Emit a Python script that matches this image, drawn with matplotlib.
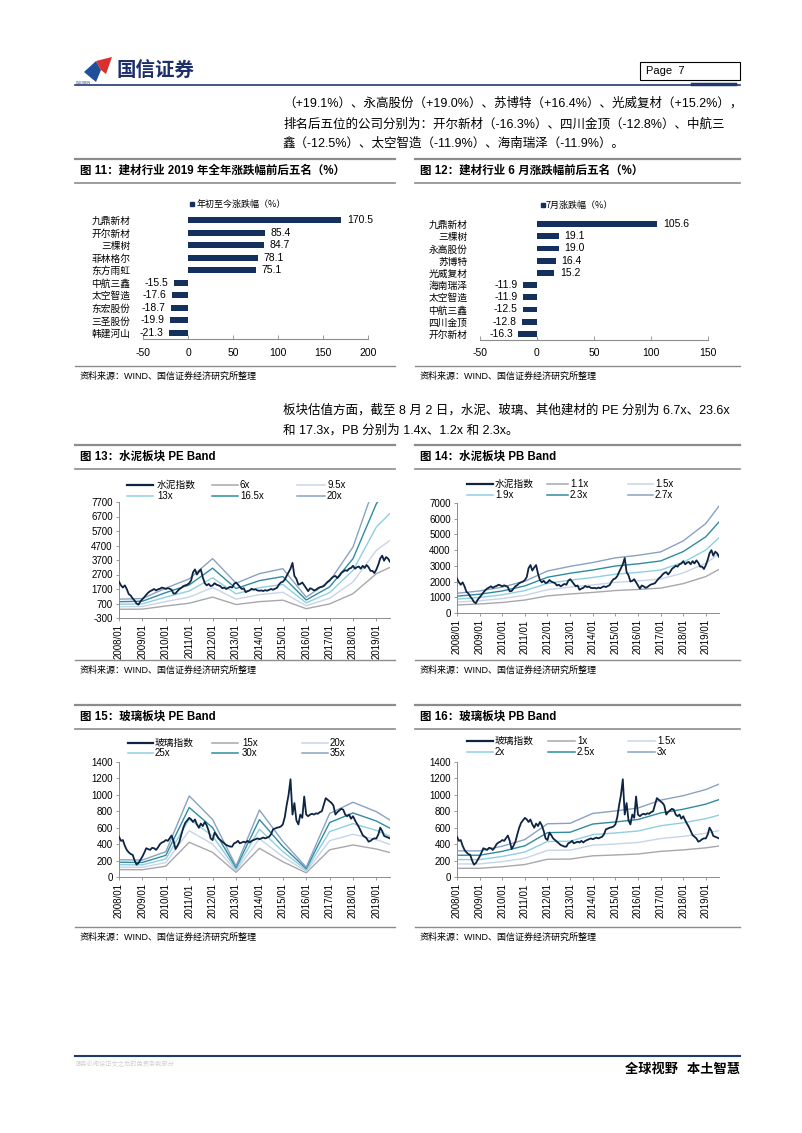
"""Rebuild of page 7: building-materials rankings and PE/PB band charts."""

import matplotlib
matplotlib.use('Agg')
import matplotlib.pyplot as plt
from matplotlib.lines import Line2D
from matplotlib.patches import Rectangle, Polygon
import numpy as np

plt.rcParams['font.family'] = ['Liberation Sans', 'Noto Sans CJK SC', 'DejaVu Sans']
plt.rcParams['axes.unicode_minus'] = False

# --- data -------------------------------------------------------------------
# fig 11: full-year 2019 change, top/bottom five (%)
names11 = ['九鼎新材', '开尔新材', '三棵树', '菲林格尔', '东方雨虹',
           '中航三鑫', '太空智造', '东宏股份', '三圣股份', '韩建河山']
vals11 = [170.5, 85.4, 84.7, 78.1, 75.1, -15.5, -17.6, -18.7, -19.9, -21.3]

# fig 12: monthly change, top/bottom five (%)
names12 = ['九鼎新材', '三棵树', '永高股份', '苏博特', '光威复材',
           '海南瑞泽', '太空智造', '中航三鑫', '四川金顶', '开尔新材']
vals12 = [105.6, 19.1, 19.0, 16.4, 15.2, -11.9, -11.9, -12.5, -12.8, -16.3]

# monthly index levels, 2008/01 .. 2019/08
cement_idx = [
    2200, 1950, 1800, 1950, 1700, 1350, 1250, 1050, 900, 700, 620, 850,
    1000, 1150, 1300, 1450, 1550, 1620, 1700, 1600, 1680, 1720, 1800, 1760,
    1700, 1760, 1720, 1650, 1380, 1400, 1550, 1700, 1780, 1900, 1950, 2000,
    2100, 2300, 2850, 3050, 2700, 2900, 3050, 2500, 2100, 1950, 2050, 1900,
    1950, 2100, 2000, 1950, 1900, 1750, 1800, 1700, 1780, 1850, 1800, 2050,
    2150, 2000, 1850, 1700, 1750, 1480, 1550, 1600, 1720, 1650, 1680, 1600,
    1580, 1600, 1560, 1620, 1580, 1640, 1700, 1650, 1720, 1780, 2000, 2150,
    2200, 2350, 2600, 2850, 3100, 3500, 2600, 2400, 2000, 2050, 2150, 1950,
    1750, 1550, 1750, 1700, 1600, 1650, 1750, 1820, 1850, 1900, 2050, 2200,
    2300, 2450, 2550, 2600, 2450, 2600, 2800, 2900, 3000, 2950, 3100, 3150,
    3300, 3100, 3200, 3250, 3100, 3300, 3150, 3350, 3200, 2950, 2950, 2800,
    3050, 3400, 3800, 4000, 3650, 3900, 3800, 3580]

glass_idx = [
    490, 440, 450, 380, 330, 300, 280, 270, 200, 150, 170, 210,
    250, 300, 350, 340, 330, 355, 350, 330, 360, 400, 420, 430,
    450, 440, 470, 505, 440, 340, 380, 430, 520, 600, 660, 690,
    720, 700, 670, 700, 640, 600, 650, 620, 670, 630, 560, 470,
    450, 540, 510, 470, 450, 430, 410, 390, 380, 370, 370, 410,
    420, 440, 410, 420, 430, 420, 440, 420, 440, 450, 460, 470,
    460, 470, 480, 470, 480, 490, 520, 580, 590, 600, 605, 615,
    640, 730, 870, 1000, 1190, 760, 900, 690, 640, 760, 720, 980,
    760, 740, 760, 770, 760, 775, 770, 790, 800, 880, 960, 940,
    920, 900, 870, 760, 790, 810, 830, 820, 760, 740, 760, 710,
    740, 690, 650, 610, 560, 510, 490, 470, 430, 440, 460, 470,
    470, 520, 600, 560, 500, 490, 480, 470]

# per-share earnings / book value at each band vertex (Jan of 2008..2019, then 2019/08)
cement_eps = [50, 52, 88, 120, 190, 105, 138, 155, 57, 112, 230, 460, 532]
cement_bps = [465, 520, 610, 750, 990, 1100, 1190, 1300, 1360, 1440, 1700, 2110, 2520]
glass_eps = [6.0, 5.9, 8.8, 28.2, 20.0, 3.8, 23.3, 12.4, 3.4, 22.1, 26.0, 22.7, 19.8]
glass_bps = [106, 106, 125, 152, 216, 218, 258, 268, 280, 312, 330, 355, 377]

cement_pe_mult = [6, 9.5, 13, 16.5, 20]
cement_pb_mult = [1.1, 1.5, 1.9, 2.3, 2.7]
glass_pe_mult = [15, 20, 25, 30, 35]
glass_pb_mult = [1, 1.5, 2, 2.5, 3]

cement_pe_labels = ['水泥指数', '6x', '9.5x', '13x', '16.5x', '20x']
cement_pb_labels = ['水泥指数', '1.1x', '1.5x', '1.9x', '2.3x', '2.7x']
glass_pe_labels = ['玻璃指数', '15x', '20x', '25x', '30x', '35x']
glass_pb_labels = ['玻璃指数', '1x', '1.5x', '2x', '2.5x', '3x']

months = np.arange('2008-01', '2019-09', dtype='datetime64[M]').astype('datetime64[D]')
vertices = [np.datetime64(f'{y}-01-01') for y in range(2008, 2020)] + [np.datetime64('2019-08-01')]
year_ticks = [np.datetime64(f'{y}-01-01') for y in range(2008, 2020)]

# --- style ------------------------------------------------------------------
NAVY = '#0d2444'
BAR = '#14305c'
GRAY_LINE = '#8c8c8c'
BAND_COLORS = ['#a8a8ac', '#c8d4e8', '#8ecfe0', '#2f8ca0', '#8aa2c2']
CJK = ['Noto Sans CJK SC', 'DejaVu Sans']

W, H = 802, 1133
fig = plt.figure(figsize=(W / 100, H / 100), dpi=100)
fig.patch.set_facecolor('white')


def px_ax(l, t, r, b):
    return fig.add_axes([l / W, 1 - b / H, (r - l) / W, (b - t) / H])


def ftext(x, y, s, **kw):
    kw.setdefault('va', 'center')
    fig.text(x / W, 1 - y / H, s, **kw)


def fline(x0, x1, y0, y1, **kw):
    fig.add_artist(Line2D([x0 / W, x1 / W], [1 - y0 / H, 1 - y1 / H],
                          transform=fig.transFigure, **kw))


# --- header / footer --------------------------------------------------------
fig.add_artist(Polygon([(84 / W, 1 - 72 / H), (96 / W, 1 - 61 / H), (101 / W, 1 - 70 / H), (96 / W, 1 - 82 / H)],
                       closed=True, transform=fig.transFigure, color='#1f4e9a', lw=0))
fig.add_artist(Polygon([(96 / W, 1 - 61 / H), (112 / W, 1 - 57 / H), (106 / W, 1 - 74 / H), (101 / W, 1 - 70 / H)],
                       closed=True, transform=fig.transFigure, color='#d9302c', lw=0))
ftext(117, 71, '国信证券', fontsize=14, fontweight='bold', color='#1c2f6b', family=CJK)
ftext(76, 83, 'GUOSEN', fontsize=2.5, color='#1c2f6b')
fig.add_artist(Rectangle((640 / W, 1 - 80 / H), 100 / W, 18 / H, transform=fig.transFigure,
                         fill=False, lw=0.8, ec='black'))
ftext(646, 71, 'Page  7', fontsize=8)
fline(75, 740, 85, 85, color='#1f3a6e', lw=1.2)
fline(692, 735, 83.5, 83.5, color='#1f3a6e', lw=2.5)

fline(75, 740, 1056, 1056, color='#1f3a6e', lw=1.5)
ftext(75, 1064, '请务必阅读正文之后的免责条款部分', fontsize=4.5, color='#d0d0d0', family=CJK)
ftext(740, 1069, '全球视野   本土智慧', fontsize=9.5, fontweight='bold', ha='right', family=CJK)

# --- body text --------------------------------------------------------------
body = dict(fontsize=9.0)
ftext(283, 103, '（+19.1%）、永高股份（+19.0%）、苏博特（+16.4%）、光威复材（+15.2%），', **body)
ftext(283, 124, '排名后五位的公司分别为：开尔新材（-16.3%）、四川金顶（-12.8%）、中航三', **body)
ftext(283, 144, '鑫（-12.5%）、太空智造（-11.9%）、海南瑞泽（-11.9%）。', **body)
ftext(283, 410, '板块估值方面，截至 8 月 2 日，水泥、玻璃、其他建材的 PE 分别为 6.7x、23.6x', **body)
ftext(283, 430, '和 17.3x，PB 分别为 1.4x、1.2x 和 2.3x。', **body)


# --- panel frames -----------------------------------------------------------
def frame(x0, x1, top, title, src_y):
    fline(x0, x1, top, top, color=GRAY_LINE, lw=1.6)
    fline(x0, x1, top + 24, top + 24, color=GRAY_LINE, lw=1.2)
    ftext(x0 + 5, top + 12, title, fontsize=8.3, fontweight='bold')
    fline(x0, x1, src_y, src_y, color=GRAY_LINE, lw=1.0)
    ftext(x0 + 5, src_y + 10, '资料来源：WIND、国信证券经济研究所整理', fontsize=6.5)


frame(75, 395, 159, '图 11：建材行业 2019 年全年涨跌幅前后五名（%）', 366)
frame(415, 740, 159, '图 12：建材行业 6 月涨跌幅前后五名（%）', 366)
frame(75, 395, 445, '图 13：水泥板块 PE Band', 660)
frame(415, 740, 445, '图 14：水泥板块 PB Band', 660)
frame(75, 395, 705, '图 15：玻璃板块 PE Band', 927)
frame(415, 740, 705, '图 16：玻璃板块 PB Band', 927)


# --- bar charts -------------------------------------------------------------
def bar_chart(ax, names, vals, xlim, xticks):
    y = np.arange(len(names))
    ax.barh(y, vals, height=0.48, color=BAR)
    ax.set_ylim(len(names) - 0.5, -0.5)
    ax.set_xlim(*xlim)
    ax.set_yticks(y)
    ax.set_yticklabels(names, fontsize=7, family=CJK)
    ax.tick_params(axis='y', length=0, pad=9)
    ax.set_xticks(xticks)
    ax.tick_params(axis='x', direction='in', length=3, width=0.6, color=GRAY_LINE,
                   labelsize=7.5, pad=6)
    for s in ['top', 'right', 'left']:
        ax.spines[s].set_visible(False)
    ax.spines['bottom'].set_color(GRAY_LINE)
    ax.spines['bottom'].set_linewidth(0.8)
    for yi, v in zip(y, vals):
        ax.annotate(f'{v:.1f}', (v, yi), xytext=(4 if v > 0 else -4, 0),
                    textcoords='offset points', ha='left' if v > 0 else 'right',
                    va='center', fontsize=7.5)


ax11 = px_ax(143, 213.7, 368, 339.3)
bar_chart(ax11, names11, vals11, (-50, 200), [-50, 0, 50, 100, 150, 200])
fig.add_artist(Rectangle((190 / W, 1 - 206 / H), 4 / W, 4 / H, transform=fig.transFigure, color=BAR))
ftext(197, 204, '年初至今涨跌幅（%）', fontsize=6.5, family=CJK)

ax12 = px_ax(480, 218, 708, 340)
bar_chart(ax12, names12, vals12, (-50, 150), [-50, 0, 50, 100, 150])
fig.add_artist(Rectangle((541 / W, 1 - 207 / H), 4 / W, 4 / H, transform=fig.transFigure, color=BAR))
ftext(546, 205, '7月涨跌幅（%）', fontsize=6.5, family=CJK)


# --- band charts ------------------------------------------------------------
def band_chart(ax, idx, base, mults, ylim, yticks):
    for m, c in zip(mults, BAND_COLORS):
        ax.plot(vertices, [b * m for b in base], color=c, lw=1.0, zorder=2)
    ax.plot(months, idx, color=NAVY, lw=1.3, zorder=5)
    ax.set_xlim(np.datetime64('2008-01-01'), np.datetime64('2019-08-01'))
    ax.set_ylim(*ylim)
    ax.set_yticks(yticks)
    ax.set_xticks(year_ticks)
    ax.set_xticklabels([f'{str(d)[:4]}/01' for d in year_ticks], rotation=90)
    ax.tick_params(axis='both', length=2.5, width=0.6, color=GRAY_LINE, labelsize=7, pad=2)
    for s in ['top', 'right']:
        ax.spines[s].set_visible(False)
    for s in ['left', 'bottom']:
        ax.spines[s].set_color(GRAY_LINE)
        ax.spines[s].set_linewidth(0.7)


def band_legend(labels, xs0, xs1, xt, rows):
    colors = [NAVY] + BAND_COLORS
    for i, (lab, c) in enumerate(zip(labels, colors)):
        r, col = divmod(i, 3)
        y = rows[r]
        fline(xs0[col], xs1[col], y, y, color=c, lw=1.6 if i == 0 else 1.1)
        ftext(xt[col], y, lab, fontsize=7, family=['Liberation Sans', 'Noto Sans CJK SC'])


ax13 = px_ax(119, 502, 390, 618)
band_chart(ax13, cement_idx, cement_eps, cement_pe_mult, (-300, 7700), range(-300, 7701, 1000))
band_legend(cement_pe_labels, [127, 212, 297], [153, 238, 325], [157, 240, 327], [485, 496])

ax14 = px_ax(457, 503, 719, 613)
band_chart(ax14, cement_idx, cement_bps, cement_pb_mult, (0, 7000), range(0, 7001, 1000))
band_legend(cement_pb_labels, [467, 547, 628], [493, 568, 653], [495, 570, 655], [484, 495])

ax15 = px_ax(119, 762, 390, 877)
band_chart(ax15, glass_idx, glass_eps, glass_pe_mult, (0, 1400), range(0, 1401, 200))
band_legend(glass_pe_labels, [128, 212, 302], [153, 238, 328], [155, 242, 330], [743, 753])

ax16 = px_ax(457, 762, 719, 877)
band_chart(ax16, glass_idx, glass_bps, glass_pb_mult, (0, 1400), range(0, 1401, 200))
band_legend(glass_pb_labels, [467, 548, 628], [493, 575, 655], [495, 577, 657], [741, 752])

plt.savefig('out.png', dpi=100, facecolor='white')
